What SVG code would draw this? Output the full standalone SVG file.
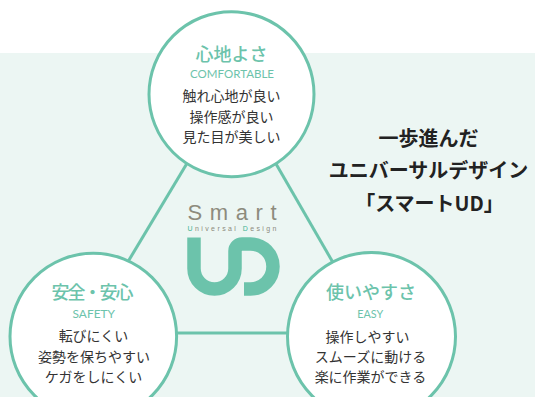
<svg xmlns="http://www.w3.org/2000/svg" width="535" height="397" viewBox="0 0 535 397">
<defs>
<style>
.ring{fill:#ffffff;stroke:#6cc3ab;stroke-width:3}
.con{stroke:#6cc3ab;stroke-width:3;fill:none}
.ttl{font-family:"Noto Sans CJK JP",sans-serif;font-size:18px;font-weight:500;fill:#6cc3ab;text-anchor:middle}
.sub{font-family:Lato,"Liberation Sans",sans-serif;font-size:10.5px;fill:#6cc3ab;text-anchor:middle}
.body{font-family:"Noto Sans CJK JP",sans-serif;font-size:14px;fill:#333333;text-anchor:middle}
.head{font-family:"Noto Sans CJK JP",sans-serif;font-size:20px;font-weight:bold;fill:#222222;text-anchor:middle}
.logo{font-family:"Liberation Sans",sans-serif;fill:#8d8b7d}
</style>
</defs>
<rect x="0" y="0" width="535" height="397" fill="#ffffff"/>
<rect x="0" y="53" width="535" height="344" fill="#ecf6f3"/>
<g id="connectors">
<line class="con" x1="228.6" y1="94" x2="83.4" y2="336"/>
<line class="con" x1="235.7" y1="94" x2="375.4" y2="336"/>
<line class="con" x1="93" y1="333" x2="371" y2="333"/>
</g>
<g id="logo">
<text class="logo" x="187.5" y="220.3" textLength="89" lengthAdjust="spacing" font-size="22">Smart</text>
<text class="logo" x="187.5" y="231" textLength="89" lengthAdjust="spacing" font-size="7"><tspan fill="#3fb393">U</tspan>niversal <tspan fill="#3fb393">D</tspan>esign</text>
<path d="M194 237.5 V268.5 A20.5 20.5 0 0 0 235 268.5 V251 A7 7 0 0 1 242 244 H250.5 A22.5 22.5 0 0 1 250.5 289 H244" fill="none" stroke="#6cc3ab" stroke-width="13.5"/>
</g>
<g id="node-comfort">
<circle class="ring" cx="231.5" cy="94.2" r="82.5"/>
<text class="ttl" x="231.5" y="60.5">心地よさ</text>
<text class="sub" x="232" y="77.5" textLength="84" lengthAdjust="spacingAndGlyphs">COMFORTABLE</text>
<text class="body" x="231.5" y="101">触れ心地が良い</text>
<text class="body" x="231.5" y="121.5">操作感が良い</text>
<text class="body" x="231.5" y="142">見た目が美しい</text>
</g>
<g id="node-safety">
<circle class="ring" cx="93.3" cy="336.5" r="83.3"/>
<text class="ttl" x="92.5" y="299" textLength="82" lengthAdjust="spacing">安全・安心</text>
<text class="sub" x="93.8" y="317.5" textLength="42.5" lengthAdjust="spacingAndGlyphs">SAFETY</text>
<text class="body" x="93.5" y="341">転びにくい</text>
<text class="body" x="94" y="361.5">姿勢を保ちやすい</text>
<text class="body" x="93.5" y="382">ケガをしにくい</text>
</g>
<g id="node-easy">
<circle class="ring" cx="371.5" cy="336.5" r="84"/>
<text class="ttl" x="371" y="299">使いやすさ</text>
<text class="sub" x="370.3" y="317.5" textLength="26" lengthAdjust="spacingAndGlyphs">EASY</text>
<text class="body" x="367.5" y="341.5">操作しやすい</text>
<text class="body" x="370.5" y="362">スムーズに動ける</text>
<text class="body" x="370.5" y="382">楽に作業ができる</text>
</g>
<g id="headline">
<text class="head" x="428.5" y="145.5">一歩進んだ</text>
<text class="head" x="428.5" y="178">ユニバーサルデザイン</text>
<text class="head" x="429.5" y="211">「スマートUD」</text>
</g>
</svg>
